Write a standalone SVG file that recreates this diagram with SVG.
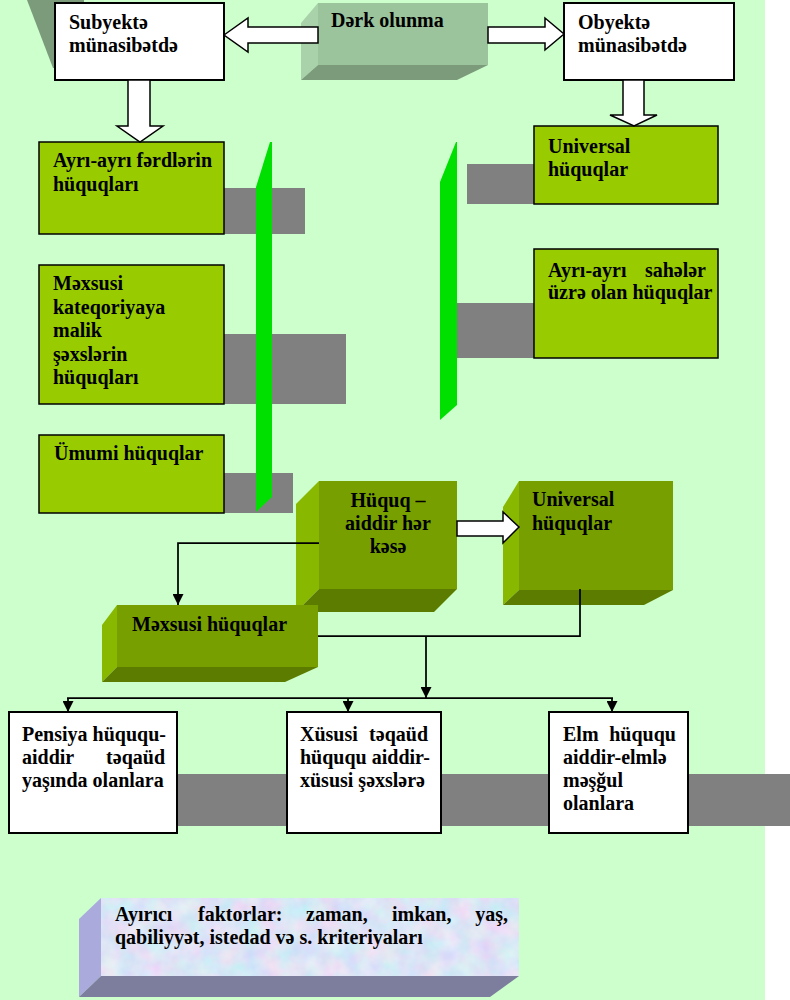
<svg xmlns="http://www.w3.org/2000/svg" width="790" height="1000" viewBox="0 0 790 1000">
<style>
.t{font-family:"Liberation Serif","Times New Roman",serif;font-weight:bold;font-size:20px;fill:#000}
.wb{fill:#fff;stroke:#000;stroke-width:2}
.gb{fill:#99CC00;stroke:#000;stroke-width:1.5}
.sh{fill:#808080}
.bar{fill:#00E000}
.ha{fill:#fff;stroke:#000;stroke-width:1.5;stroke-linejoin:miter}
.of{fill:#779F00}.ol{fill:#88B800}.ob{fill:#5C7C00}
.ln{fill:none;stroke:#000;stroke-width:1.75}
</style>
<defs>
<marker id="ah" viewBox="0 0 10 10" refX="10" refY="5" markerWidth="11" markerHeight="11" markerUnits="userSpaceOnUse" orient="auto">
<path d="M0,0 L10,5 L0,10 z" fill="#000"/>
</marker>
<filter id="marble" x="0" y="0" width="1" height="1">
<feTurbulence type="fractalNoise" baseFrequency="0.05" numOctaves="3" seed="5" result="n"/>
<feColorMatrix in="n" type="matrix" values="0.4 -0.15 0 0 0.6  0 0.3 0 0 0.63  0 0 0.12 0 0.86  0 0 0 0 1" result="c"/>
<feComposite in="c" in2="SourceGraphic" operator="in"/>
</filter>
</defs>

<rect x="0" y="0" width="790" height="1000" fill="#fff"/>
<rect x="0" y="0" width="765" height="1000" fill="#CCFFCC"/>

<!-- decorative shadows -->
<polygon points="27,0 84,0 84,68 53,68" fill="#7B9B7B"/>
<rect class="sh" x="200" y="188" width="105" height="46"/>
<rect class="sh" x="200" y="334" width="146" height="70"/>
<rect class="sh" x="200" y="473" width="93" height="40"/>
<rect class="sh" x="467" y="164" width="80" height="40"/>
<rect class="sh" x="445" y="303" width="100" height="55"/>
<rect class="sh" x="177" y="774" width="613" height="52"/>

<g id="subyekte">
<rect class="wb" x="55" y="3" width="169" height="77"/>
<text class="t" x="69" y="29">Subyektə</text>
<text class="t" x="69" y="52">münasibətdə</text>
</g>

<g id="derk">
<polygon points="318,3 318,65 301,80 301,23" fill="#AAD2AA"/>
<polygon points="318,65 488,65 457,80 301,80" fill="#7B9B7B"/>
<rect x="318" y="3" width="170" height="62" fill="#9CC49C"/>
<text class="t" x="331" y="27">Dərk olunma</text>
</g>

<g id="obyekte">
<rect class="wb" x="564" y="3" width="170" height="77"/>
<text class="t" x="578" y="29">Obyektə</text>
<text class="t" x="578" y="52">münasibətdə</text>
</g>

<g id="universal1">
<rect class="gb" x="534" y="126" width="184" height="78"/>
<text class="t" x="548" y="153">Universal</text>
<text class="t" x="548" y="176">hüquqlar</text>
</g>

<g id="ayri-ferd">
<rect class="gb" x="39" y="142" width="185" height="92"/>
<text class="t" x="53" y="167">Ayrı-ayrı fərdlərin</text>
<text class="t" x="53" y="191">hüquqları</text>
</g>

<g id="mexsusi-kat">
<rect class="gb" x="39" y="265" width="185" height="139"/>
<text class="t" x="53" y="290">Məxsusi</text>
<text class="t" x="53" y="314">kateqoriyaya</text>
<text class="t" x="53" y="337">malik</text>
<text class="t" x="53" y="361">şəxslərin</text>
<text class="t" x="53" y="384">hüquqları</text>
</g>

<g id="umumi">
<rect class="gb" x="39" y="435" width="185" height="78"/>
<text class="t" x="54" y="460">Ümumi hüquqlar</text>
</g>

<g id="ayri-sahe">
<rect class="gb" x="534" y="249" width="184" height="109"/>
<text class="t" y="277"><tspan x="548">Ayrı-ayrı</tspan><tspan x="706" text-anchor="end">sahələr</tspan></text>
<text class="t" x="548" y="299">üzrə olan hüquqlar</text>
</g>

<!-- bars -->
<polygon class="bar" points="256,187 270,142 272,142 272,497 256,512"/>
<polygon class="bar" points="440,182 456,142 457,142 457,405 440,420"/>

<g id="huquq">
<polygon class="ol" points="319,481 319,589 296,612 296,504"/>
<polygon class="ob" points="319,589 457,589 434,612 296,612"/>
<rect class="of" x="319" y="481" width="138" height="108"/>
<text class="t" x="388" y="507" text-anchor="middle">Hüquq –</text>
<text class="t" x="388" y="530" text-anchor="middle">aiddir hər</text>
<text class="t" x="388" y="553" text-anchor="middle">kəsə</text>
</g>

<g id="universal2">
<polygon class="ol" points="519,481 519,590 503,605 503,507"/>
<polygon class="ob" points="519,590 673,590 644,605 503,605"/>
<rect class="of" x="519" y="481" width="154" height="109"/>
<text class="t" x="532" y="506">Universal</text>
<text class="t" x="532" y="530">hüquqlar</text>
</g>

<g id="mexsusi-huq">
<polygon class="ol" points="117,605 117,667 102,682 102,625"/>
<polygon class="ob" points="117,667 318,667 285,682 102,682"/>
<rect class="of" x="117" y="605" width="201" height="62"/>
<text class="t" x="132" y="631">Məxsusi hüquqlar</text>
</g>

<g id="pensiya">
<rect class="wb" x="9" y="712" width="168" height="121"/>
<text class="t" x="22" y="741">Pensiya hüququ-</text>
<text class="t" y="764"><tspan x="22">aiddir</tspan><tspan x="165" text-anchor="end">təqaüd</tspan></text>
<text class="t" x="22" y="787">yaşında olanlara</text>
</g>

<g id="xususi">
<rect class="wb" x="287" y="712" width="154" height="121"/>
<text class="t" y="741"><tspan x="300">Xüsusi</tspan><tspan x="428" text-anchor="end">təqaüd</tspan></text>
<text class="t" x="300" y="764">hüququ aiddir-</text>
<text class="t" x="300" y="787">xüsusi şəxslərə</text>
</g>

<g id="elm">
<rect class="wb" x="549" y="712" width="139" height="121"/>
<text class="t" y="741"><tspan x="563">Elm</tspan><tspan x="676" text-anchor="end">hüququ</tspan></text>
<text class="t" x="563" y="764">aiddir-elmlə</text>
<text class="t" x="563" y="787">məşğul</text>
<text class="t" x="563" y="810">olanlara</text>
</g>

<g id="ayirici">
<polygon points="101,898 101,976 79,997 79,919" fill="#AAAADD"/>
<polygon points="101,976 519,976 490,997 79,997" fill="#7D7D9D"/>
<rect x="101" y="898" width="418" height="78" fill="#C8D2EC" filter="url(#marble)"/>
<text class="t" y="921"><tspan x="115">Ayırıcı</tspan><tspan x="198">faktorlar:</tspan><tspan x="306">zaman,</tspan><tspan x="392">imkan,</tspan><tspan x="508" text-anchor="end">yaş,</tspan></text>
<text class="t" x="115" y="944">qabiliyyət, istedad və s. kriteriyaları</text>
</g>

<g id="connectors">
<polygon class="ha" points="224,35 248,18 248,27 318,27 318,43 248,43 248,52"/>
<polygon class="ha" points="488,27 545,27 545,18 564,34 545,50 545,43 488,43"/>
<polygon class="ha" points="128,80 150,80 150,126 163,126 140,142 117,126 128,126"/>
<polygon class="ha" points="623,80 644,80 644,115 657,115 634,126 610,115 623,115"/>
<polygon class="ha" points="457,521 503,521 503,512 519,527 503,543 503,536 457,536"/>
<path class="ln" d="M319,543 H178 V605" marker-end="url(#ah)"/>
<path class="ln" d="M580,589 V636 H318"/>
<path class="ln" d="M426,636 V698" marker-end="url(#ah)"/>
<path class="ln" d="M67,698 H613"/>
<path class="ln" d="M68,698 V712" marker-end="url(#ah)"/>
<path class="ln" d="M348,698 V712" marker-end="url(#ah)"/>
<path class="ln" d="M612,698 V712" marker-end="url(#ah)"/>
</g>
</svg>
